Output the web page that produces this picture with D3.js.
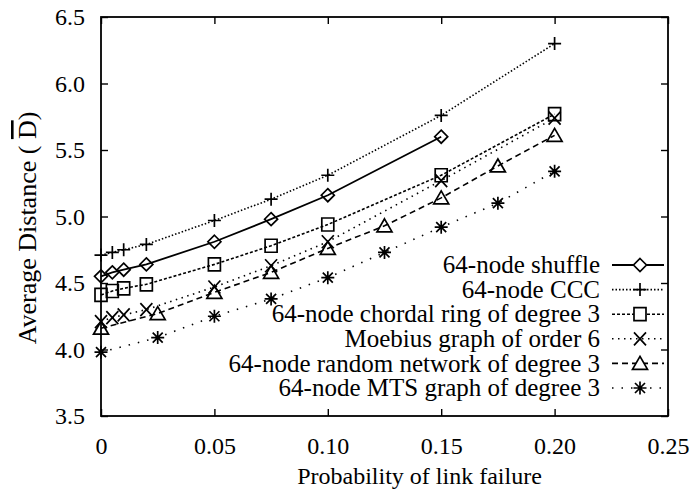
<!DOCTYPE html>
<html>
<head>
<meta charset="utf-8">
<script src="https://cdn.jsdelivr.net/npm/d3@7"></script>
<style>
  body { margin: 0; background: #fff; }
</style>
</head>
<body>
<svg id="chart" width="692" height="495" font-family="Liberation Serif"></svg>
<script>
// Axis ticks
const xTicks = [0, 0.05, 0.10, 0.15, 0.20, 0.25];
const xTickLabels = ["0", "0.05", "0.10", "0.15", "0.20", "0.25"];
const yTicks = [3.5, 4.0, 4.5, 5.0, 5.5, 6.0, 6.5];
const yTickLabels = ["3.5", "4.0", "4.5", "5.0", "5.5", "6.0", "6.5"];

// Series names (legend order)
const seriesNames = [
  "64-node shuffle",
  "64-node CCC",
  "64-node chordal ring of degree 3",
  "Moebius graph of order 6",
  "64-node random network of degree 3",
  "64-node MTS graph of degree 3"
];

// Link failure probabilities sampled by each series
const pDense = [0, 0.005, 0.01, 0.02, 0.05, 0.075, 0.10, 0.15, 0.20];
const pCoarse = [0, 0.025, 0.05, 0.075, 0.10, 0.125, 0.15, 0.175, 0.20];

// Average distance values
const shuffleD = [4.55, 4.58, 4.60, 4.64, 4.81, 4.98, 5.16, 5.60];
const cccD     = [4.71, 4.73, 4.75, 4.79, 4.97, 5.13, 5.31, 5.76, 6.30];
const chordalD = [4.41, 4.44, 4.46, 4.49, 4.64, 4.78, 4.94, 5.31, 5.77];
const moebiusD = [4.21, 4.24, 4.26, 4.30, 4.47, 4.63, 4.81, 5.27, 5.74];
const randomD  = [4.16, 4.27, 4.43, 4.58, 4.76, 4.93, 5.14, 5.38, 5.61];
const mtsD     = [3.98, 4.09, 4.25, 4.38, 4.54, 4.73, 4.92, 5.10, 5.34];

const seriesX = [pDense, pDense, pDense, pDense, pCoarse, pCoarse];
const seriesY = [shuffleD, cccD, chordalD, moebiusD, randomD, mtsD];

// Drawing styles per series
const markers = ["diamond", "plus", "square", "cross", "triangle", "star"];
const dashes = ["none", "1.5,2", "3,2", "1.5,4.5", "6,4", "1.5,8"];

const svg = d3.select("#chart");
const W = 692, H = 495;
const m = { left: 101, right: 668, top: 17, bottom: 416 };
const serif = "Liberation Serif";

const x = d3.scaleLinear().domain([0, 0.25]).range([m.left, m.right]);
const y = d3.scaleLinear().domain([3.5, 6.5]).range([m.bottom, m.top]);

svg.append("rect").attr("width", W).attr("height", H).attr("fill", "#fff");

// Marker shapes centred at origin
function markerPath(type) {
  const p = d3.path();
  const r = 6.5;
  switch (type) {
    case "diamond":
      p.moveTo(0, -r); p.lineTo(r, 0); p.lineTo(0, r); p.lineTo(-r, 0); p.closePath(); break;
    case "plus":
      p.moveTo(-r, 0); p.lineTo(r, 0); p.moveTo(0, -r); p.lineTo(0, r); break;
    case "square":
      p.rect(-6, -6.5, 12, 13); break;
    case "cross":
      p.moveTo(-6, -6.5); p.lineTo(6, 6.5); p.moveTo(6, -6.5); p.lineTo(-6, 6.5); break;
    case "triangle":
      p.moveTo(0, -7); p.lineTo(7.5, 6); p.lineTo(-7.5, 6); p.closePath(); break;
    case "star":
      p.moveTo(-6.5, 0); p.lineTo(6.5, 0); p.moveTo(0, -6.5); p.lineTo(0, 6.5);
      p.moveTo(-5, -5); p.lineTo(5, 5); p.moveTo(5, -5); p.lineTo(-5, 5); break;
  }
  return p.toString();
}

// Axes with inward ticks on all four sides
const tickLen = 7;
const xAxisB = d3.axisBottom(x).tickValues(xTicks).tickSize(-tickLen).tickFormat((d, i) => xTickLabels[i]).tickPadding(tickLen + 14);
const xAxisT = d3.axisTop(x).tickValues(xTicks).tickSize(-tickLen).tickFormat("");
const yAxisL = d3.axisLeft(y).tickValues(yTicks).tickSize(-tickLen).tickFormat((d, i) => yTickLabels[i]).tickPadding(tickLen + 9);
const yAxisR = d3.axisRight(y).tickValues(yTicks).tickSize(-tickLen).tickFormat("");

function styleAxis(g) {
  g.attr("font-family", serif).attr("font-size", 24);
  g.select(".domain").remove();
  g.selectAll(".tick line").attr("stroke", "#000").attr("stroke-width", 1.4);
  g.selectAll(".tick text").attr("fill", "#000");
}
svg.append("g").attr("transform", `translate(0,${m.bottom})`).call(xAxisB).call(styleAxis);
svg.append("g").attr("transform", `translate(0,${m.top})`).call(xAxisT).call(styleAxis);
svg.append("g").attr("transform", `translate(${m.left},0)`).call(yAxisL).call(styleAxis);
svg.append("g").attr("transform", `translate(${m.right},0)`).call(yAxisR).call(styleAxis);

// Plot frame
svg.append("rect")
  .attr("x", m.left).attr("y", m.top)
  .attr("width", m.right - m.left).attr("height", m.bottom - m.top)
  .attr("fill", "none").attr("stroke", "#000").attr("stroke-width", 1.8);

// Series lines and markers
const line = d3.line().x(d => x(d[0])).y(d => y(d[1]));
seriesNames.forEach((name, i) => {
  const pts = seriesY[i].map((v, j) => [seriesX[i][j], v]);
  const g = svg.append("g");
  g.append("path")
    .attr("d", line(pts))
    .attr("fill", "none").attr("stroke", "#000")
    .attr("stroke-width", i === 0 ? 1.8 : 1.6)
    .attr("stroke-dasharray", dashes[i]);
  g.selectAll("path.mk").data(pts).join("path")
    .attr("class", "mk")
    .attr("d", markerPath(markers[i]))
    .attr("transform", d => `translate(${x(d[0])},${y(d[1])})`)
    .attr("fill", "none").attr("stroke", "#000").attr("stroke-width", 1.7);
});

// Legend
const legX = 600, legY0 = 265, legStep = 24.6;
const sampleX0 = 612, sampleX1 = 664, sampleXm = 640;
seriesNames.forEach((name, i) => {
  const yy = legY0 + i * legStep;
  svg.append("text")
    .attr("x", legX).attr("y", yy).attr("dy", "0.33em")
    .attr("text-anchor", "end").attr("font-size", 25)
    .attr("fill", "#000")
    .text(name);
  svg.append("line")
    .attr("x1", sampleX0).attr("x2", sampleX1).attr("y1", yy).attr("y2", yy)
    .attr("stroke", "#000").attr("stroke-width", i === 0 ? 1.8 : 1.6)
    .attr("stroke-dasharray", dashes[i]);
  svg.append("path")
    .attr("d", markerPath(markers[i]))
    .attr("transform", `translate(${sampleXm},${yy})`)
    .attr("fill", "#fff").attr("stroke", "#000").attr("stroke-width", 1.7);
});

// Axis titles
svg.append("text")
  .attr("x", (m.left + m.right) / 2 + 35).attr("y", 484)
  .attr("text-anchor", "middle").attr("font-size", 24)
  .attr("fill", "#000")
  .text("Probability of link failure");

const yTitle = svg.append("text")
  .attr("transform", `translate(36,${228}) rotate(-90)`)
  .attr("text-anchor", "middle").attr("font-size", 26)
  .attr("fill", "#000");
yTitle.append("tspan").text("Average Distance ( ");
yTitle.append("tspan").style("text-decoration", "overline").text("D");
yTitle.append("tspan").text(")");
</script>
</body>
</html>
